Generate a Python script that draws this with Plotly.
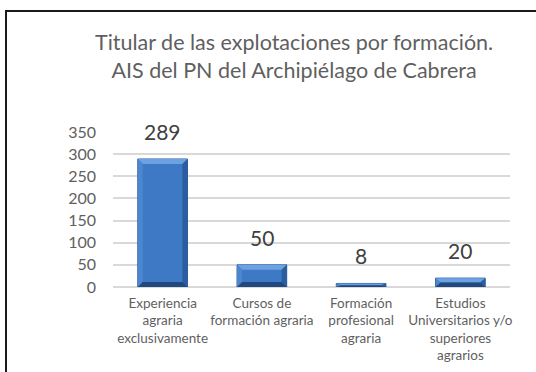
import plotly.graph_objects as go

# Chart data
categories = [
    "Experiencia<br>agraria<br>exclusivamente",
    "Cursos de<br>formación agraria",
    "Formación<br>profesional<br>agraria",
    "Estudios<br>Universitarios y/o<br>superiores<br>agrarios",
]
values = [289, 50, 8, 20]
y_ticks = [0, 50, 100, 150, 200, 250, 300, 350]
title_lines = [
    "Titular de las explotaciones por formación.",
    "AIS del PN del Archipiélago de Cabrera",
]

W, H = 536, 372
L, R, T, B = 113, 26, 132, 85
plot_w = W - L - R
plot_h = H - T - B
y_max = 350
bar_w = 0.5

FONT = "Lato, 'Open Sans', sans-serif"
GRAY = "#5F5F5F"

fig = go.Figure()
fig.add_trace(go.Bar(
    x=list(range(len(categories))),
    y=values,
    width=bar_w,
    marker=dict(color="#3D79C4", line=dict(color="#2A5A98", width=1)),
    hoverinfo="skip",
))

# bevel facets on each bar (pixel-sized edge converted to data units)
bev_x = 5 / plot_w * len(categories)
shapes = []
for i, v in enumerate(values):
    bev_y = min(5 / plot_h * y_max, v / 2)
    x0, x1 = i - bar_w / 2, i + bar_w / 2
    facets = [
        (f"M{x0},{v} L{x1},{v} L{x1-bev_x},{v-bev_y} L{x0+bev_x},{v-bev_y} Z", "#6DA2E2"),
        (f"M{x0},{v} L{x0+bev_x},{v-bev_y} L{x0+bev_x},{bev_y} L{x0},0 Z", "#4B86D0"),
        (f"M{x1},{v} L{x1-bev_x},{v-bev_y} L{x1-bev_x},{bev_y} L{x1},0 Z", "#2B5E9F"),
        (f"M{x0},0 L{x1},0 L{x1-bev_x},{bev_y} L{x0+bev_x},{bev_y} Z", "#22497F"),
    ]
    for path, col in facets:
        shapes.append(dict(type="path", xref="x", yref="y", path=path,
                           fillcolor=col, line=dict(width=0), layer="above"))

# outer frame
def px_x(p):
    return (p - L) / plot_w

def px_y(p):
    return (T + plot_h - p) / plot_h

shapes.append(dict(type="rect", xref="paper", yref="paper",
                   x0=px_x(6), x1=px_x(560), y0=px_y(400), y1=px_y(11),
                   line=dict(color="#1A1A1A", width=2), fillcolor="rgba(0,0,0,0)",
                   layer="below"))

annotations = []
for i, v in enumerate(values):
    annotations.append(dict(x=i, y=v, xref="x", yref="y", text=str(v),
                            showarrow=False, yanchor="bottom", yshift=13,
                            font=dict(family=FONT, size=21, color="#404040")))

annotations.append(dict(x=px_x(294), y=px_y(56), xref="paper", yref="paper",
                        text="<br>".join(title_lines), showarrow=False,
                        xanchor="center", yanchor="middle",
                        font=dict(family=FONT, size=21.5, color=GRAY)))

fig.update_layout(
    width=W, height=H,
    margin=dict(l=L, r=R, t=T, b=B, pad=0, autoexpand=False),
    paper_bgcolor="white", plot_bgcolor="white",
    showlegend=False,
    bargap=0.5,
    shapes=shapes,
    annotations=annotations,
    xaxis=dict(
        tickmode="array", tickvals=list(range(len(categories))), ticktext=categories,
        range=[-0.5, len(categories) - 0.5],
        showgrid=False, zeroline=False, showline=False, ticks="",
        ticklabelstandoff=6, automargin=False,
        tickfont=dict(family=FONT, size=13.5, color=GRAY),
        fixedrange=True,
    ),
    yaxis=dict(
        range=[0, y_max], tickvals=y_ticks,
        showgrid=True, gridcolor="#D9D9D9", gridwidth=1.5,
        zeroline=True, zerolinecolor="#D9D9D9", zerolinewidth=1.5,
        showline=False, ticks="", ticklabelstandoff=16, automargin=False,
        tickfont=dict(family=FONT, size=16, color=GRAY),
        fixedrange=True,
    ),
)

fig.write_html("out.html", config={"displayModeBar": False})
